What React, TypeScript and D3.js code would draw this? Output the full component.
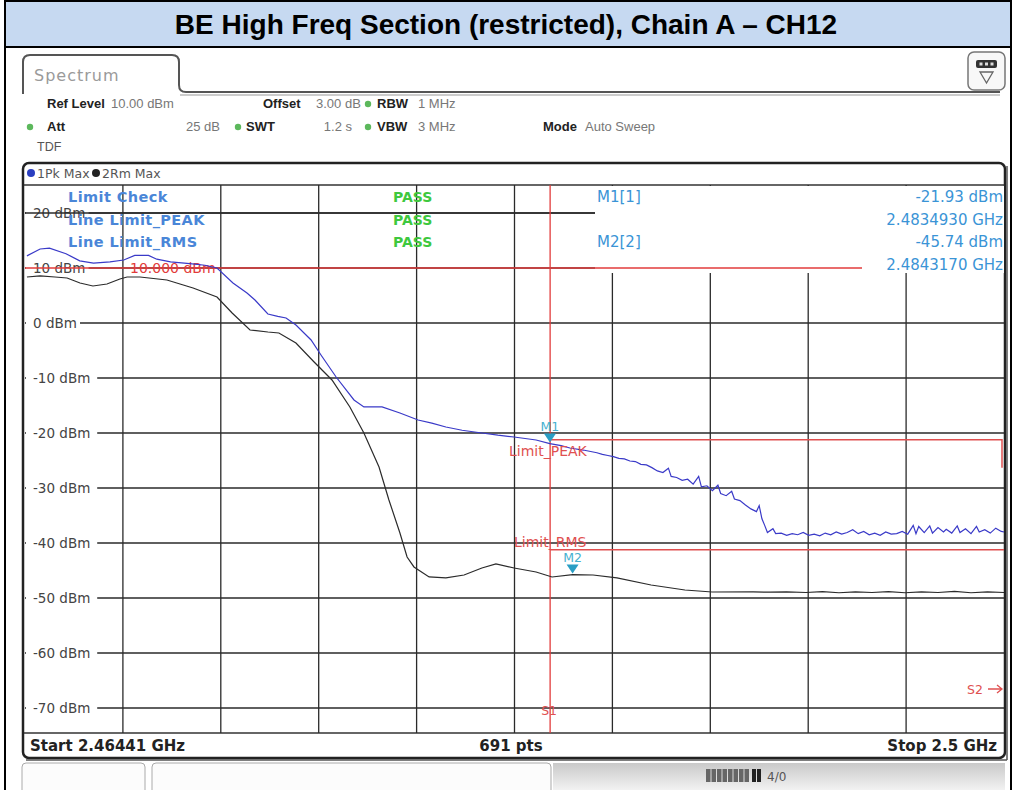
import React from 'react';
import * as d3 from 'd3';

// sweep / display settings
const startMHz = 2464.41;
const stopMHz = 2500.0;
const sweepPts = 691;
const yTicks = [20, 10, 0, -10, -20, -30, -40, -50, -60, -70];
const yTopDbm = 25.09;
const yBottomDbm = -74.55;

const displayLineDbm = 10;
const bandEdgeMHz = 2483.5;
const limitPeakDbm = -21.23;
const limitRmsDbm = -41.23;

const limitRows = ['Limit Check', 'Line Limit_PEAK', 'Line Limit_RMS'];
const limitResults = ['PASS', 'PASS', 'PASS'];
const markerInfo = [
  ['M1[1]', '-21.93 dBm'],
  ['', '2.4834930 GHz'],
  ['M2[2]', '-45.74 dBm'],
  ['', '2.4843170 GHz'],
];

const markers = [
  { id: 'M1', f: 2483.493, v: -21.93 },
  { id: 'M2', f: 2484.317, v: -45.74 },
];

// trace 1: Pk Max  [MHz, dBm]
const pkTrace: [number, number][] = [
  [2464.48, 12.2], [2464.96, 13.45], [2465.3, 13.6], [2465.9, 12.6], [2466.4, 11.3],
  [2466.9, 10.9], [2467.5, 11.1], [2468.0, 11.45], [2468.4, 12.3], [2468.9, 12.3],
  [2469.2, 11.6], [2469.7, 11.1], [2470.4, 10.8], [2470.95, 10.5], [2471.39, 10.0],
  [2471.97, 7.27], [2472.48, 5.45], [2472.77, 4.18], [2473.24, 1.64], [2473.6, 1.2],
  [2473.9, 0.91], [2474.26, -0.36], [2474.81, -3.09], [2475.17, -5.82], [2475.72, -9.82],
  [2476.37, -14.0], [2476.73, -15.27], [2477.39, -15.27], [2478.04, -16.36], [2478.7, -17.64],
  [2479.2, -18.2], [2479.71, -18.91], [2480.3, -19.5], [2481.02, -20.0], [2481.6, -20.4],
  [2482.19, -20.73], [2482.99, -21.27], [2483.49, -21.93], [2483.9, -22.3], [2484.22, -22.73],
  [2484.7, -23.1], [2485.2, -23.6], [2485.4, -23.9], [2485.6, -24.1], [2485.8, -24.3],
  [2486.0, -24.6], [2486.2, -24.7], [2486.4, -25.1], [2486.6, -25.2], [2486.8, -25.7],
  [2487.0, -25.8], [2487.2, -26.3], [2487.4, -26.9], [2487.6, -27.2], [2487.8, -26.4],
  [2487.9, -27.9], [2488.1, -28.1], [2488.3, -28.6], [2488.5, -28.4], [2488.7, -29.3],
  [2488.9, -27.9], [2489.0, -29.8], [2489.2, -29.6], [2489.4, -30.5], [2489.6, -29.5],
  [2489.7, -31.0], [2489.9, -31.4], [2490.1, -30.6], [2490.2, -32.0], [2490.4, -32.3],
  [2490.6, -33.1], [2490.8, -33.8], [2491.0, -34.3], [2491.1, -33.2], [2491.2, -35.6],
  [2491.3, -36.8], [2491.4, -38.1], [2491.6, -37.4], [2491.7, -38.3], [2491.9, -38.2],
  [2492.1, -38.6], [2492.3, -38.3], [2492.5, -38.5], [2492.7, -38.1], [2492.9, -38.6],
  [2493.1, -38.4], [2493.3, -38.7], [2493.5, -38.2], [2493.7, -38.5], [2493.9, -38.0],
  [2494.1, -38.4], [2494.3, -38.1], [2494.5, -37.6], [2494.7, -38.3], [2494.9, -37.9],
  [2495.1, -38.5], [2495.3, -38.2], [2495.5, -38.6], [2495.7, -38.0], [2495.9, -38.4],
  [2496.1, -38.3], [2496.3, -37.9], [2496.5, -38.4], [2496.7, -36.8], [2496.8, -38.3],
  [2496.9, -37.0], [2497.1, -38.1], [2497.3, -36.9], [2497.4, -38.2], [2497.6, -37.2],
  [2497.8, -38.0], [2497.9, -37.5], [2498.1, -38.2], [2498.3, -36.9], [2498.4, -38.1],
  [2498.6, -37.4], [2498.8, -38.3], [2499.0, -37.0], [2499.1, -38.0], [2499.3, -37.6],
  [2499.5, -38.2], [2499.7, -37.3], [2499.9, -37.9], [2500.0, -38.0],
];

// trace 2: RMS Max  [MHz, dBm]
const rmTrace: [number, number][] = [
  [2464.48, 8.36], [2464.96, 8.55], [2465.5, 8.36], [2465.94, 8.18], [2466.41, 7.27],
  [2466.88, 6.73], [2467.39, 7.09], [2467.86, 8.0], [2468.12, 8.36], [2468.59, 8.36],
  [2469.57, 7.82], [2470.52, 6.36], [2471.39, 4.73], [2471.94, 1.82], [2472.59, -1.27],
  [2473.24, -1.64], [2473.64, -1.82], [2474.26, -3.64], [2474.92, -7.09], [2475.57, -10.36],
  [2476.22, -15.27], [2476.73, -20.0], [2477.28, -26.18], [2477.64, -32.18], [2478.04, -38.18],
  [2478.3, -42.55], [2478.55, -44.36], [2479.1, -46.18], [2479.71, -46.36], [2480.37, -45.82],
  [2481.02, -44.55], [2481.53, -43.82], [2482.19, -44.55], [2482.99, -45.27], [2483.57, -46.18],
  [2484.32, -45.74], [2485.06, -45.82], [2485.93, -46.36], [2487.17, -47.64], [2488.4, -48.55],
  [2489.39, -48.91], [2490.88, -48.9], [2491.5, -48.95], [2492.1, -48.9], [2492.8, -49.0],
  [2493.4, -48.85], [2494.0, -49.05], [2494.6, -48.9], [2495.2, -49.0], [2495.8, -48.85],
  [2496.4, -49.05], [2497.0, -48.9], [2497.6, -49.0], [2498.2, -48.8], [2498.8, -49.05],
  [2499.4, -48.9], [2500.0, -49.0],
];

const W = 1013;
const H = 790;
// plot area of the analyzer window
const PL = 25, PR = 1004, PT = 185, PB = 733;

const FONT = '"DejaVu Sans", "Liberation Sans", sans-serif';
const HFONT = '"Liberation Sans", Arial, sans-serif';

const App = () => {
  const x = d3.scaleLinear().domain([startMHz, stopMHz]).range([PL, PR]);
  const y = d3.scaleLinear().domain([yBottomDbm, yTopDbm]).range([PB, PT]);
  const line = d3.line<[number, number]>().x(d => x(d[0])).y(d => y(d[1]));

  const vGrid = d3.range(1, 10).map(i => x(startMHz + (i * (stopMHz - startMHz)) / 10));
  const edgeX = x(bandEdgeMHz);
  const boxLeft = 595;
  const infoRows = [202, 224.5, 247, 269.5];

  return (
    <div style={{ position: 'absolute', left: 0, top: 0 }}>
      <svg width={W} height={H} style={{ display: 'block', fontFamily: FONT }}>
        <rect x={0} y={0} width={W} height={H} fill="#fff" />

        {/* title band */}
        <rect x={5} y={1} width={1006} height={46} fill="#c6d9f1" stroke="#000" strokeWidth={2} />
        <text x={506} y={34} textAnchor="middle" fontFamily={HFONT}
          fontWeight="bold" fontSize={28} fill="#000">
          BE High Freq Section (restricted), Chain A – CH12
        </text>
        <line x1={5} y1={47} x2={5} y2={H} stroke="#000" strokeWidth={2} />
        <line x1={1011} y1={47} x2={1011} y2={H} stroke="#000" strokeWidth={2} />

        {/* tab + top icon */}
        <path d="M23,94 V62 Q23,55 30,55 H172 Q179,55 179,62 V85 Q179,92 186,92 H1000"
          fill="none" stroke="#555" strokeWidth={2} />
        <line x1={180} y1={95} x2={1000} y2={95} stroke="#ccc" strokeWidth={2} />
        <text x={34} y={81} fontSize={16} fill="#9a9a9a" letterSpacing={1}>Spectrum</text>
        <rect x={968} y={52} width={37} height={38} rx={6} fill="#f8f8f8" stroke="#777" strokeWidth={1.5} />
        <rect x={976} y={60} width={21} height={8} rx={2} fill="#333" />
        {[981, 986.5, 992].map(cx => <rect key={cx} x={cx - 1.5} y={62.5} width={3} height={3} fill="#ddd" />)}
        <path d="M980,72 H993 L986.5,83 Z" fill="none" stroke="#666" strokeWidth={1.3} />

        {/* settings header */}
        <g fontSize={13} fontFamily={HFONT}>
          <text x={47} y={108} fontWeight="bold" fill="#222">Ref Level</text>
          <text x={111} y={108} fill="#777">10.00 dBm</text>
          <text x={263} y={108} fontWeight="bold" fill="#222">Offset</text>
          <text x={316} y={108} fill="#777">3.00 dB</text>
          <text x={377} y={108} fontWeight="bold" fill="#222">RBW</text>
          <text x={418} y={108} fill="#777">1 MHz</text>
          <text x={47} y={131} fontWeight="bold" fill="#222">Att</text>
          <text x={220} y={131} textAnchor="end" fill="#777">25 dB</text>
          <text x={246} y={131} fontWeight="bold" fill="#222">SWT</text>
          <text x={352} y={131} textAnchor="end" fill="#777">1.2 s</text>
          <text x={377} y={131} fontWeight="bold" fill="#222">VBW</text>
          <text x={418} y={131} fill="#777">3 MHz</text>
          <text x={543} y={131} fontWeight="bold" fill="#222">Mode</text>
          <text x={585} y={131} fill="#777">Auto Sweep</text>
          <text x={37} y={151} fill="#555" fontSize={12.5}>TDF</text>
        </g>
        {[[30, 127], [238, 127], [368, 104], [368, 127]].map(([cx, cy]) => (
          <circle key={`${cx}-${cy}`} cx={cx} cy={cy} r={3.2} fill="#5cb85c" />
        ))}

        {/* analyzer window frame */}
        <rect x={23} y={163} width={982} height={595} rx={6} fill="#fff" stroke="#222" strokeWidth={2.5} />
        <line x1={24} y1={PT} x2={1004} y2={PT} stroke="#333" strokeWidth={1.5} />
        <line x1={24} y1={PB} x2={1004} y2={PB} stroke="#333" strokeWidth={1.5} />
        <line x1={26} y1={760} x2={1007} y2={760} stroke="#555" strokeWidth={1.5} />
        <line x1={1007} y1={166} x2={1007} y2={760} stroke="#555" strokeWidth={1.5} />

        <circle cx={31} cy={173} r={4} fill="#2a3ec0" />
        <text x={37} y={178} fontSize={12.5} fill="#555">1Pk Max</text>
        <circle cx={96} cy={173} r={4} fill="#222" />
        <text x={102} y={178} fontSize={12.5} fill="#555">2Rm Max</text>

        {/* grid */}
        <g stroke="#2a2a2a" strokeWidth={1.3}>
          {yTicks.map(t => (
            <line key={t} x1={PL} x2={PR} y1={y(t)} y2={y(t)} />
          ))}
          {vGrid.map(gx => (
            <line key={gx} x1={gx} x2={gx} y1={PT} y2={PB} />
          ))}
        </g>
        {yTicks.map(t => {
          const label = `${t} dBm`;
          return (
            <g key={t}>
              <rect x={PL + 1} y={y(t) - 7} width={label.length * 8.6 + 11} height={14} fill="#fff" />
              <text x={33} y={y(t) + 5} fontSize={13.5} fill="#444">{label}</text>
            </g>
          );
        })}

        {/* marker info box masks the grid */}
        <rect x={boxLeft} y={PT + 1} width={PR - boxLeft} height={87} fill="#fff" />
        <line x1={PL} x2={boxLeft} y1={y(20)} y2={y(20)} stroke="#2a2a2a" strokeWidth={1.3} />

        {/* display line, band edge, limit lines */}
        <line x1={PL} x2={862} y1={y(displayLineDbm)} y2={y(displayLineDbm)} stroke="#e23b3b" strokeWidth={1.3} />
        <text x={130} y={y(displayLineDbm) + 5} fontSize={14} fill="#e23b3b">10.000 dBm</text>
        <line x1={edgeX} x2={edgeX} y1={PT} y2={PB} stroke="#e23b3b" strokeWidth={1.3} />
        <path d={`M${edgeX},${y(limitPeakDbm)} H${PR - 2} V${y(limitPeakDbm) + 28}`}
          fill="none" stroke="#e05050" strokeWidth={1.5} />
        <line x1={edgeX} x2={PR} y1={y(limitRmsDbm)} y2={y(limitRmsDbm)} stroke="#e05050" strokeWidth={1.5} />

        {/* traces */}
        <path d={line(rmTrace) || ''} fill="none" stroke="#2b2b2b" strokeWidth={1.2} />
        <path d={line(pkTrace) || ''} fill="none" stroke="#3a3ac8" strokeWidth={1.2} />

        <text x={509} y={y(limitPeakDbm) + 16} fontSize={14} fill="#e05050">Limit_PEAK</text>
        <text x={514} y={y(limitRmsDbm) - 3} fontSize={14} fill="#e05050">Limit_RMS</text>

        {/* limit check summary */}
        {limitRows.map((r, i) => (
          <g key={r}>
            <text x={68} y={infoRows[i]} fontSize={14.5} fontWeight="bold" fill="#4a86d8" letterSpacing={0.4}>{r}</text>
            <text x={393} y={infoRows[i]} fontSize={14} fontWeight="bold" fill="#3ec83e">{limitResults[i]}</text>
          </g>
        ))}

        {/* marker table */}
        <rect x={862} y={infoRows[3] - 12} width={PR - 862} height={15} fill="#fff" />
        {markerInfo.map(([a, b], i) => (
          <g key={i} fontSize={15} fill="#3a94d6">
            {a && <text x={597} y={infoRows[i]}>{a}</text>}
            <text x={PR - 1} y={infoRows[i]} textAnchor="end">{b}</text>
          </g>
        ))}

        {/* markers */}
        {markers.map(m => {
          const mx = x(m.f);
          const my = y(m.v);
          return (
            <g key={m.id}>
              <path d={`M${mx - 6},${my - 10} H${mx + 6} L${mx},${my - 1} Z`} fill="#2a9ec4" />
              <text x={mx} y={my - 13} textAnchor="middle" fontSize={12.5} fill="#45b0cf">{m.id}</text>
            </g>
          );
        })}

        <text x={edgeX - 1} y={715} textAnchor="middle" fontSize={12.5} fill="#e05050">S1</text>
        <text x={967} y={694} fontSize={12.5} fill="#e05050">S2</text>
        <path d="M988,689 H1001 M997,685 L1002,689 L997,693" fill="none" stroke="#e05050" strokeWidth={1.3} />

        {/* footer */}
        <g fontSize={15} fontWeight="bold" fill="#222">
          <text x={30} y={751}>{`Start ${(startMHz / 1000).toFixed(5)} GHz`}</text>
          <text x={511} y={751} textAnchor="middle">{`${sweepPts} pts`}</text>
          <text x={997} y={751} textAnchor="end">{`Stop ${stopMHz / 1000} GHz`}</text>
        </g>

        {/* soft key bar */}
        <defs>
          <linearGradient id="bar" x1="0" x2="0" y1="0" y2="1">
            <stop offset="0" stopColor="#c9c9c9" />
            <stop offset="1" stopColor="#f2f2f2" />
          </linearGradient>
        </defs>
        <rect x={22} y={763} width={123} height={40} rx={4} fill="#fcfcfc" stroke="#aaa" />
        <rect x={152} y={763} width={399} height={40} rx={4} fill="#fcfcfc" stroke="#aaa" />
        <rect x={553} y={763} width={452} height={27} fill="url(#bar)" />
        {d3.range(0, 8).map(i => (
          <rect key={i} x={706 + i * 5.5} y={769} width={4.5} height={13} fill="#666" />
        ))}
        <rect x={752} y={769} width={4} height={13} fill="#222" />
        <rect x={757} y={769} width={4} height={13} fill="#222" />
        <text x={767} y={781} fontSize={12} fill="#555">4/0</text>
      </svg>
    </div>
  );
};

export default App;
